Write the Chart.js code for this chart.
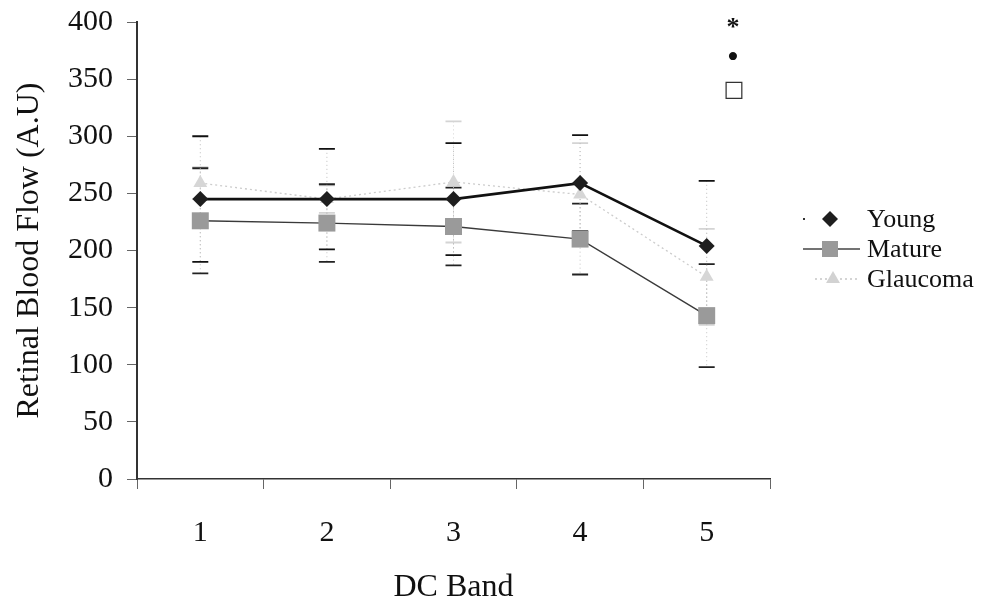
<!DOCTYPE html>
<html>
<head>
<meta charset="utf-8">
<script src="https://cdn.jsdelivr.net/npm/chart.js@4/dist/chart.umd.min.js"></script>
<style>
html,body{margin:0;padding:0;background:#fff;}
#wrap{width:991px;height:607px;position:relative;}
</style>
</head>
<body>
<div id="wrap"><canvas id="c" width="991" height="607"></canvas></div>
<script>
const categories = ['1', '2', '3', '4', '5'];
const young = [245, 245, 245, 259, 204];
const youngErr = [55, 44, 49, 42, 57];
const mature = [226, 224, 221, 210, 143];
const matureErr = [46, 34, 34, 31, 45];
const glaucoma = [259, 245, 260, 249, 177];
const glaucomaErr = [14, 12, 53, 45, 42];
const yTicks = [0, 50, 100, 150, 200, 250, 300, 350, 400];
const seriesNames = ['Young', 'Mature', 'Glaucoma'];
const markSymbols = ['*', '•', '□'];

const SERIF = '"Liberation Serif", "Times New Roman", serif';
const errs = [youngErr, matureErr, glaucomaErr];
const errStyle = [
  {cap: '#111', stem: '#bdbdbd', dash: [1, 3]},
  {cap: '#222', stem: '#c4c4c4', dash: [1, 3]},
  {cap: '#d4d4d4', stem: '#d4d4d4', dash: [1, 3]}
];

const errorBars = {
  id: 'errorBars',
  beforeDatasetsDraw(chart) {
    const ctx = chart.ctx;
    const ys = chart.scales.y;
    [2, 1, 0].forEach(di => {
      const meta = chart.getDatasetMeta(di);
      const data = chart.data.datasets[di].data;
      meta.data.forEach((pt, i) => {
        const x = pt.x;
        const top = ys.getPixelForValue(data[i] + errs[di][i]);
        const bot = ys.getPixelForValue(data[i] - errs[di][i]);
        ctx.save();
        ctx.strokeStyle = errStyle[di].stem;
        ctx.lineWidth = 1;
        ctx.setLineDash(errStyle[di].dash);
        ctx.beginPath();
        ctx.moveTo(x, top); ctx.lineTo(x, bot);
        ctx.stroke();
        ctx.setLineDash([]);
        ctx.strokeStyle = errStyle[di].cap;
        ctx.lineWidth = 1.8;
        ctx.beginPath();
        ctx.moveTo(x - 8, top); ctx.lineTo(x + 8, top);
        ctx.moveTo(x - 8, bot); ctx.lineTo(x + 8, bot);
        ctx.stroke();
        ctx.restore();
      });
    });
  }
};

function diamond(ctx, x, y, r, fill) {
  ctx.beginPath();
  ctx.moveTo(x, y - r); ctx.lineTo(x + r, y); ctx.lineTo(x, y + r); ctx.lineTo(x - r, y);
  ctx.closePath(); ctx.fillStyle = fill; ctx.fill();
}
function tri(ctx, x, y, r, fill) {
  ctx.beginPath();
  ctx.moveTo(x, y - r); ctx.lineTo(x + r * 0.87, y + r * 0.5); ctx.lineTo(x - r * 0.87, y + r * 0.5);
  ctx.closePath(); ctx.fillStyle = fill; ctx.fill();
}

const legendAndMarks = {
  id: 'legendAndMarks',
  afterDraw(chart) {
    const ctx = chart.ctx;
    ctx.save();
    const rows = [219, 249, 279];
    ctx.font = '26px ' + SERIF;
    ctx.fillStyle = '#111';
    ctx.textBaseline = 'middle';
    ctx.textAlign = 'left';
    seriesNames.forEach((n, i) => ctx.fillText(n, 867, rows[i] + 1));
    ctx.fillStyle = '#333';
    ctx.fillRect(803, rows[0] - 1, 2, 2);
    diamond(ctx, 830, rows[0], 8, '#1e1e1e');
    ctx.strokeStyle = '#444'; ctx.lineWidth = 1.3;
    ctx.beginPath(); ctx.moveTo(803, rows[1]); ctx.lineTo(860, rows[1]); ctx.stroke();
    ctx.fillStyle = '#9a9a9a'; ctx.fillRect(822, rows[1] - 8, 16, 16);
    ctx.strokeStyle = '#c6c6c6'; ctx.setLineDash([2, 3]);
    ctx.beginPath(); ctx.moveTo(815, rows[2]); ctx.lineTo(858, rows[2]); ctx.stroke();
    ctx.setLineDash([]);
    tri(ctx, 833, rows[2], 8, '#d2d2d2');
    ctx.fillStyle = '#111';
    ctx.textAlign = 'center';
    ctx.font = 'bold 26px ' + SERIF;
    ctx.fillText(markSymbols[0], 733, 28);
    ctx.font = '34px ' + SERIF;
    ctx.fillText(markSymbols[1], 733, 59);
    ctx.font = '22px "DejaVu Sans"';
    ctx.fillStyle = '#333';
    ctx.fillText(markSymbols[2], 734, 90);
    ctx.restore();
  }
};

new Chart(document.getElementById('c'), {
  type: 'line',
  data: {
    labels: categories,
    datasets: [
      {label: seriesNames[0], data: young, borderColor: '#111', borderWidth: 2.6,
       pointStyle: 'rectRot', pointRadius: 8, pointBackgroundColor: '#1e1e1e', pointBorderColor: '#1e1e1e', pointBorderWidth: 0, tension: 0, order: 1},
      {label: seriesNames[1], data: mature, borderColor: '#3a3a3a', borderWidth: 1.4,
       pointStyle: 'rect', pointRadius: 12, pointBackgroundColor: '#9a9a9a', pointBorderColor: '#9a9a9a', pointBorderWidth: 0, tension: 0, order: 2},
      {label: seriesNames[2], data: glaucoma, borderColor: '#cccccc', borderWidth: 1.3, borderDash: [2, 3],
       pointStyle: 'triangle', pointRadius: 8, pointBackgroundColor: '#d6d6d6', pointBorderColor: '#d6d6d6', pointBorderWidth: 0, tension: 0, order: 3}
    ]
  },
  options: {
    responsive: false,
    animation: false,
    devicePixelRatio: 1,
    layout: {padding: {top: 22, right: 221, left: 0, bottom: 0}},
    plugins: {legend: {display: false}, tooltip: {enabled: false}},
    scales: {
      x: {
        type: 'category',
        offset: true,
        grid: {offset: true, drawOnChartArea: false, drawTicks: true, tickLength: 10, color: '#666', lineWidth: 1},
        border: {display: true, color: '#333', width: 1.5},
        ticks: {color: '#111', font: {family: SERIF, size: 30}, padding: 26},
        title: {display: true, text: 'DC Band', color: '#111', font: {family: SERIF, size: 32}, padding: {top: 0, bottom: 0}},
        afterFit(s) { s.height = 128; s.paddingLeft = 0; s.paddingRight = 0; }
      },
      y: {
        min: 0, max: 400,
        afterBuildTicks(s) { s.ticks = yTicks.map(v => ({value: v})); },
        grid: {drawOnChartArea: false, drawTicks: true, tickLength: 10, color: '#666', lineWidth: 1},
        border: {display: true, color: '#333', width: 2},
        ticks: {color: '#111', font: {family: SERIF, size: 30}, padding: 14},
        title: {display: true, text: 'Retinal Blood Flow (A.U)', color: '#111', font: {family: SERIF, size: 32}, padding: {top: 10, bottom: 0}},
        afterFit(s) { s.width = 137; s.paddingTop = 0; s.paddingBottom = 0; }
      }
    }
  },
  plugins: [errorBars, legendAndMarks]
});
</script>
</body>
</html>
